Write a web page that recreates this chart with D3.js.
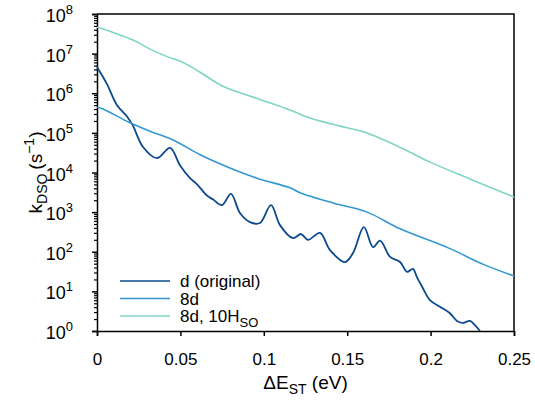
<!DOCTYPE html>
<html>
<head>
<meta charset="utf-8">
<script src="https://cdn.jsdelivr.net/npm/d3@7"></script>
<style>
  body { margin: 0; background: #fff; }
  text { font-family: "Liberation Sans", Arial, Helvetica, sans-serif; fill: #000; }
</style>
</head>
<body>
<svg id="chart"></svg>
<script>
const width = 535;
const height = 406;
const margin = { top: 14, right: 21, bottom: 75, left: 97 };

// energy gap (eV) and rate (s^-1)
const xOriginal = [0, 0.006, 0.012, 0.018, 0.0216, 0.0276, 0.036, 0.0438, 0.0498, 0.0558, 0.06, 0.066, 0.0695, 0.0749, 0.0803, 0.0857, 0.0917, 0.0977, 0.1043, 0.1097, 0.1175, 0.1223, 0.1265, 0.1337, 0.1397, 0.1487, 0.1535, 0.16, 0.1655, 0.1697, 0.1757, 0.1817, 0.1859, 0.1894, 0.1918, 0.1954, 0.1996, 0.2056, 0.2116, 0.2158, 0.2194, 0.2236, 0.2266, 0.2296];
const kOriginal = [4.6e6, 1.7e6, 5.0e5, 2.6e5, 1.5e5, 4.4e4, 2.3e4, 4.2e4, 1.5e4, 7.2e3, 5.0e3, 2.6e3, 2.1e3, 1.5e3, 2.9e3, 9.5e2, 5.6e2, 5.3e2, 1.5e3, 4.7e2, 2.2e2, 2.8e2, 2.0e2, 3.0e2, 1.1e2, 55, 93, 4.2e2, 1.3e2, 1.9e2, 74, 55, 31, 37, 23, 12, 6.0, 4.1, 2.8, 1.8, 1.6, 1.8, 1.4, 1.0];

const x8d = [0, 0.0036, 0.0198, 0.0318, 0.0456, 0.0618, 0.0797, 0.0959, 0.1157, 0.1217, 0.1415, 0.1619, 0.1817, 0.2116, 0.2316, 0.25];
const k8d = [4.5e5, 4.0e5, 1.8e5, 1.1e5, 6.6e4, 2.8e4, 1.3e4, 7.2e3, 4.1e3, 3.1e3, 1.7e3, 1.0e3, 3.8e2, 1.2e2, 48, 24.5];

const x8dH = [0, 0.0216, 0.0318, 0.042, 0.0516, 0.0618, 0.0755, 0.0959, 0.1157, 0.125, 0.14, 0.15, 0.16, 0.17, 0.185, 0.2, 0.225, 0.25];
const k8dH = [4.7e7, 2.2e7, 1.3e7, 8.4e6, 6.0e6, 3.4e6, 1.5e6, 7.4e5, 3.8e5, 2.6e5, 1.7e5, 1.35e5, 1.05e5, 7.2e4, 3.7e4, 1.8e4, 6.5e3, 2.4e3];

const seriesNames = ["d (original)", "8d", "8d, 10H"];
const colors = ["#0b4a8c", "#3497d1", "#7fd4c6"];
const xTicks = [0, 0.05, 0.1, 0.15, 0.2, 0.25];
const yExponents = [0, 1, 2, 3, 4, 5, 6, 7, 8];

const series = [
  { name: seriesNames[0], xs: xOriginal, ks: kOriginal, color: colors[0], w: 1.8 },
  { name: seriesNames[1], xs: x8d, ks: k8d, color: colors[1], w: 1.6 },
  { name: seriesNames[2], xs: x8dH, ks: k8dH, color: colors[2], w: 1.6 }
];

const svg = d3.select("#chart").attr("width", width).attr("height", height);

const x = d3.scaleLinear().domain([0, 0.25]).range([margin.left, width - margin.right]);
const y = d3.scaleLog().domain([1, 1e8]).range([height - margin.bottom, margin.top]);

// minor ticks on the log axis
const minor = [];
yExponents.slice(0, -1).forEach(e => {
  for (let m = 2; m <= 9; m++) minor.push(m * Math.pow(10, e));
});
svg.append("g")
  .attr("transform", `translate(${margin.left},0)`)
  .call(d3.axisLeft(y).tickValues(minor).tickSize(3).tickFormat(() => ""))
  .call(g => g.select(".domain").remove())
  .call(g => g.selectAll("line").attr("stroke-width", 1.2));

const yAxis = svg.append("g")
  .attr("transform", `translate(${margin.left},0)`)
  .call(d3.axisLeft(y).tickValues(yExponents.map(e => Math.pow(10, e))).tickSize(5).tickPadding(19).tickFormat(() => ""));
yAxis.select(".domain").attr("stroke-width", 1.5);
yAxis.selectAll(".tick line").attr("stroke-width", 1.5);
yAxis.selectAll(".tick text")
  .attr("font-size", 18)
  .attr("dy", "0.42em")
  .each(function(d) {
    const t = d3.select(this);
    t.append("tspan").text("10");
    t.append("tspan").attr("dy", -8).attr("font-size", 13).text(Math.round(Math.log10(d)));
  });

const xAxis = svg.append("g")
  .attr("transform", `translate(0,${height - margin.bottom})`)
  .call(d3.axisBottom(x).tickValues(xTicks).tickSize(5).tickPadding(17).tickFormat(d3.format("~g")));
xAxis.select(".domain").attr("stroke-width", 1.5);
xAxis.selectAll(".tick line").attr("stroke-width", 1.5);
xAxis.selectAll(".tick text").attr("font-size", 17);

// frame top and right
svg.append("path")
  .attr("d", `M${margin.left},${margin.top}H${width - margin.right}V${height - margin.bottom}`)
  .attr("fill", "none").attr("stroke", "#000").attr("stroke-width", 1.5);

const line = d3.line().curve(d3.curveCatmullRom.alpha(0.5));
series.forEach(s => {
  svg.append("path")
    .datum(s.xs.map((v, i) => [x(v), y(s.ks[i])]))
    .attr("d", line)
    .attr("fill", "none")
    .attr("stroke", s.color)
    .attr("stroke-width", s.w);
});

// legend
const legend = svg.append("g");
series.forEach((s, i) => {
  const ly = 281 + i * 17.5;
  legend.append("line").attr("x1", 120).attr("x2", 170).attr("y1", ly).attr("y2", ly)
    .attr("stroke", s.color).attr("stroke-width", 1.6);
  const t = legend.append("text").attr("x", 180).attr("y", ly + 6).attr("font-size", 17).text(s.name);
  if (i === 2) t.append("tspan").attr("dy", 5).attr("font-size", 13).text("SO");
});

// axis titles
const yt = svg.append("text")
  .attr("transform", `translate(42,${(margin.top + height - margin.bottom) / 2}) rotate(-90)`)
  .attr("text-anchor", "middle").attr("font-size", 19);
yt.append("tspan").text("k");
yt.append("tspan").attr("dy", 5).attr("font-size", 14).text("DSO");
yt.append("tspan").attr("dy", -5).attr("dx", 4).text("(s");
yt.append("tspan").attr("dy", -8).attr("font-size", 14).text("\u22121");
yt.append("tspan").attr("dy", 8).text(")");

const xt = svg.append("text")
  .attr("x", (margin.left + width - margin.right) / 2).attr("y", 389)
  .attr("text-anchor", "middle").attr("font-size", 19);
xt.append("tspan").text("\u0394E");
xt.append("tspan").attr("dy", 5).attr("font-size", 14).text("ST");
xt.append("tspan").attr("dy", -5).text(" (eV)");
</script>
</body>
</html>
